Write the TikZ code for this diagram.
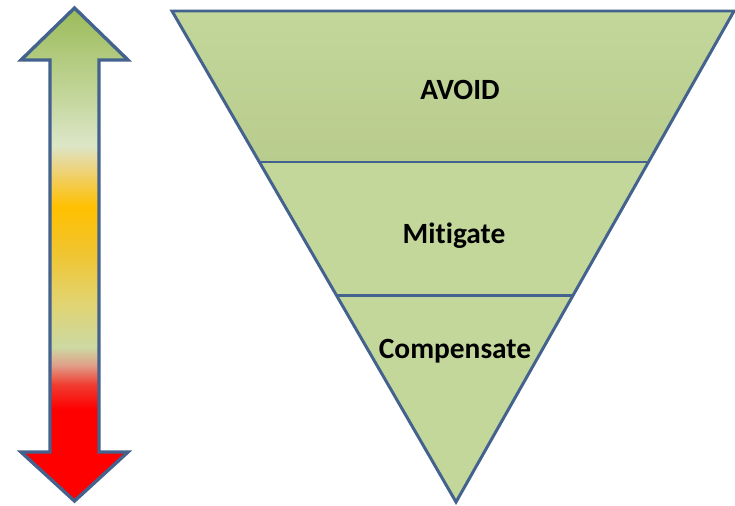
\documentclass[tikz,border=0pt]{standalone}
\usepackage{fontspec}
\setmainfont{Carlito}[Ligatures={TeX,NoCommon}]
\usetikzlibrary{calc}
\definecolor{edgeblue}{HTML}{44628E}
\definecolor{layergreen}{HTML}{C4D79B}
\definecolor{layerdark}{HTML}{B8CC8D}
\definecolor{riskgreen}{HTML}{9BBB59}
\definecolor{riskleaf}{HTML}{C3D69B}
\definecolor{riskpale}{HTML}{DCE6C8}
\definecolor{riskcream}{HTML}{EBD588}
\definecolor{riskamber}{HTML}{FFC000}
\definecolor{riskgold}{HTML}{F0C532}
\definecolor{riskstraw}{HTML}{E2D36E}
\definecolor{risksage}{HTML}{CCD9A2}
\definecolor{risksalmon}{HTML}{E0A08A}
\definecolor{riskscarlet}{HTML}{F03C30}
\pgfdeclareverticalshading{riskscale}{100bp}{%
  color(0bp)=(red); color(25bp)=(red); color(34.3bp)=(red);
  color(36.8bp)=(riskscarlet); color(38.8bp)=(risksalmon);
  color(40.6bp)=(risksage); color(45.4bp)=(riskstraw);
  color(50bp)=(riskgold); color(54.8bp)=(riskamber);
  color(59bp)=(riskcream); color(61.1bp)=(riskpale);
  color(66.1bp)=(riskleaf); color(75bp)=(riskgreen); color(100bp)=(riskgreen)}

\begin{document}
\begin{tikzpicture}[scale=0.3528]
            \tikzstyle{every node}+=[inner sep=0pt, font=\fontsize{29.5}{35}\selectfont\bfseries]
            \useasboundingbox (0,0) rectangle (73.5,-50.5);
            % double arrow
            \draw [edgeblue, line width=3.4pt, shading=riskscale] (7.45,-0.8) -- (12.8,-6.0) -- (9.9,-6.0) -- (9.9,-45.2) -- (12.8,-45.2) -- (7.45,-50.1) -- (2.1,-45.2) -- (5.0,-45.2) -- (5.0,-6.0) -- (2.1,-6.0) -- cycle;
            % inverted triangle
            \coordinate (tl) at (17.2,-1.1);
            \coordinate (tr) at (73.4,-1.1);
            \coordinate (apex) at (45.6,-50.2);
            \coordinate (l1) at ($(tl)!0.3075!(apex)$);
            \coordinate (r1) at ($(tr)!0.3075!(apex)$);
            \coordinate (l2) at ($(tl)!0.5784!(apex)$);
            \coordinate (r2) at ($(tr)!0.5784!(apex)$);
            \fill [top color=layergreen, bottom color=layerdark] (tl) -- (tr) -- (r1) -- (l1) -- cycle;
            \fill [layergreen] (l1) -- (r1) -- (apex) -- cycle;
            \draw [edgeblue, line width=3pt] (tl) -- (tr) -- (apex) -- cycle;
            \draw [edgeblue, line width=3pt] (l1) -- (r1);
            \draw [edgeblue, line width=3pt] (l2) -- (r2);
            \node (avoid) [anchor=base] at (46.0,-9.9) {AVOID};
            \node (mitigate) [anchor=base] at (45.4,-24.3) {Mitigate};
            \node (compensate) [anchor=base] at (45.5,-35.8) {Compensate};
          \end{tikzpicture}
\end{document}
